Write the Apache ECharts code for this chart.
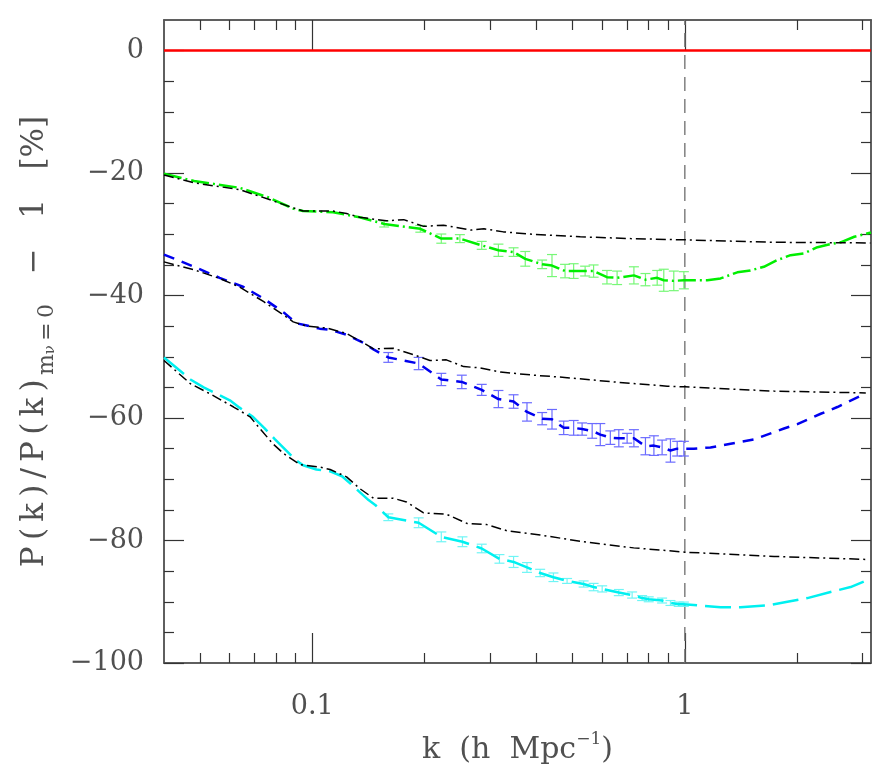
<!DOCTYPE html>
<html><head><meta charset="utf-8">
<script src="https://cdn.jsdelivr.net/npm/echarts@6/dist/echarts.min.js"></script>
<style>html,body{margin:0;padding:0;background:#fff}#c{width:885px;height:770px}</style>
</head><body><div id="c"></div>
<script>
// ---------- axes ----------
const kMin = 0.04, kMax = 3.16;
const yMin = -100, yMax = 5;
const yMajorTicks = [-100, -80, -60, -40, -20, 0];
const yMinorTicks = [-95, -90, -85, -75, -70, -65, -55, -50, -45, -35, -30, -25, -15, -10, -5];
const xMajorTicks = [0.1, 1];
const xMinorTicks = [0.05, 0.06, 0.07, 0.08, 0.09, 0.2, 0.3, 0.4, 0.5, 0.6, 0.7, 0.8, 0.9, 2, 3];
const refVerticalK = 1;
const zeroLineK = [0.04, 3.16];
const zeroLineV = [0, 0];

// ---------- green (simulation) ----------
const greenLeftK = [0.04, 0.0482, 0.0638, 0.0757, 0.0889, 0.0945, 0.1137, 0.134];
const greenLeftV = [-20.1, -21.3, -22.4, -23.9, -25.8, -26.2, -26.4, -27.2];
const greenErrK = [0.156, 0.195, 0.222, 0.249, 0.285, 0.316, 0.347, 0.373, 0.414, 0.44, 0.477, 0.503, 0.540, 0.569, 0.618, 0.658, 0.730, 0.784, 0.843, 0.878, 0.934, 0.994];
const greenErrV = [-28.3, -29.1, -30.7, -30.7, -31.8, -32.6, -32.9, -34.0, -34.9, -35.1, -36.0, -36.0, -36.0, -36.0, -37.0, -37.1, -36.7, -37.4, -37.1, -37.5, -37.6, -37.5];
const greenErrE = [0.5, 0.55, 0.75, 0.65, 0.65, 1.0, 0.7, 1.2, 0.7, 1.8, 1.1, 1.2, 0.8, 1.0, 1.1, 1.1, 1.4, 1.0, 1.2, 1.8, 1.6, 1.4];
const greenRightK = [1.0, 1.149, 1.247, 1.383, 1.5, 1.63, 1.772, 1.922, 2.088, 2.27, 2.46, 2.62, 2.85, 3.16];
const greenRightV = [-37.6, -37.5, -37.2, -36.2, -35.9, -35.3, -34.2, -33.4, -33.1, -32.1, -31.6, -31.3, -30.4, -29.7];

// ---------- blue (simulation) ----------
const blueLeftK = [0.04, 0.0482, 0.0564, 0.0654, 0.0741, 0.0844, 0.0905, 0.0967, 0.1047, 0.1117, 0.1236, 0.137, 0.146];
const blueLeftV = [-33.3, -35.3, -37.1, -38.6, -40.5, -42.9, -44.5, -44.9, -45.4, -45.6, -46.4, -47.7, -48.8];
const blueErrK = [0.16, 0.193, 0.222, 0.252, 0.285, 0.316, 0.347, 0.377, 0.414, 0.44, 0.473, 0.503, 0.530, 0.564, 0.593, 0.631, 0.665, 0.70, 0.73, 0.784, 0.826, 0.869, 0.915, 0.954, 0.994];
const blueErrV = [-50.1, -51.1, -53.7, -54.1, -55.4, -56.9, -57.3, -59.0, -60.1, -60.2, -61.6, -61.6, -61.8, -62.1, -62.7, -63.2, -63.3, -63.3, -63.3, -64.6, -64.5, -64.8, -65.3, -65.0, -65.0];
const blueErrE = [0.8, 1.0, 1.0, 1.1, 0.9, 1.4, 1.1, 1.5, 1.0, 1.6, 1.1, 1.2, 1.0, 1.2, 1.8, 1.1, 1.4, 0.8, 1.4, 1.4, 1.6, 1.2, 1.9, 1.2, 1.2];
const blueRightK = [1.057, 1.172, 1.327, 1.533, 1.735, 1.846, 2.005, 2.316, 2.567, 2.73, 3.06];
const blueRightV = [-65.0, -64.8, -64.2, -63.5, -62.3, -61.7, -61.0, -59.3, -58.2, -57.4, -56.0];

// ---------- cyan (simulation) ----------
const cyanLeftK = [0.04, 0.0471, 0.0511, 0.0601, 0.0638, 0.0693, 0.0745, 0.0792, 0.0905, 0.0945, 0.1026, 0.1117, 0.1202, 0.1266, 0.1416, 0.1476];
const cyanLeftV = [-50.1, -53.7, -55.0, -57.1, -58.3, -59.8, -61.7, -63.4, -66.9, -67.7, -68.4, -68.7, -69.5, -70.7, -73.4, -74.2];
const cyanErrK = [0.16, 0.193, 0.222, 0.253, 0.285, 0.318, 0.347, 0.377, 0.409, 0.444, 0.483, 0.535, 0.569, 0.60, 0.665, 0.722, 0.768, 0.80, 0.869, 0.915, 0.963, 0.994];
const cyanErrV = [-76.2, -77.1, -79.4, -80.2, -81.3, -83.0, -83.5, -84.4, -85.3, -86.0, -86.6, -87.1, -87.6, -87.9, -88.5, -88.9, -89.4, -89.6, -89.8, -90.2, -90.4, -90.4];
const cyanErrE = [0.55, 0.8, 0.8, 0.8, 0.7, 0.7, 0.9, 0.8, 0.6, 0.7, 0.4, 0.5, 0.6, 0.5, 0.5, 0.5, 0.4, 0.4, 0.4, 0.4, 0.35, 0.35];
const cyanRightK = [1.09, 1.247, 1.411, 1.665, 1.885, 2.133, 2.46, 2.785, 3.16];
const cyanRightV = [-90.6, -90.9, -90.9, -90.6, -90.0, -89.4, -88.4, -87.6, -86.2];

// ---------- black (linear theory) ----------
const theory1K = [0.04, 0.0482, 0.0638, 0.0757, 0.0872, 0.0945, 0.1137, 0.1236, 0.134, 0.158, 0.176, 0.199, 0.225, 0.266, 0.289, 0.326, 0.393, 0.524, 0.715, 1.0, 1.735, 3.15];
const theory1V = [-20.3, -21.6, -22.7, -24.2, -25.5, -26.2, -26.2, -26.6, -27.2, -27.8, -27.6, -28.7, -28.5, -29.3, -29.1, -29.6, -30.0, -30.4, -30.7, -30.9, -31.3, -31.4];
const theory2K = [0.04, 0.0482, 0.0564, 0.0638, 0.0741, 0.0838, 0.0889, 0.0967, 0.1094, 0.1236, 0.137, 0.146, 0.165, 0.19, 0.207, 0.229, 0.255, 0.282, 0.32, 0.393, 0.483, 0.644, 0.897, 1.0, 1.735, 3.06];
const theory2V = [-34.5, -35.8, -37.2, -38.6, -41.0, -43.2, -44.3, -45.0, -45.3, -46.2, -47.7, -48.7, -48.6, -49.8, -50.6, -50.5, -51.6, -51.8, -52.5, -53.0, -53.4, -54.1, -54.8, -54.9, -55.6, -55.9];
const theory3K = [0.04, 0.0471, 0.053, 0.0615, 0.0681, 0.0723, 0.0784, 0.0838, 0.0926, 0.1047, 0.1117, 0.1236, 0.134, 0.146, 0.165, 0.179, 0.199, 0.229, 0.26, 0.294, 0.333, 0.409, 0.535, 0.729, 1.0, 1.735, 3.12];
const theory3V = [-50.6, -54.4, -56.0, -58.2, -59.8, -61.7, -64.2, -65.8, -67.6, -68.0, -68.4, -69.6, -71.5, -73.1, -73.1, -73.7, -75.5, -75.7, -77.2, -77.4, -78.4, -79.1, -80.2, -81.2, -81.9, -82.6, -83.1];

// ---------- build ----------
const FONT = 'DejaVu Serif';
const TXT = '#505050';
const zip = (a, b) => a.map((x, i) => [x, b[i]]);
const cat = (...parts) => parts.reduce((acc, p) => acc.concat(p), []);

function lineSeries(name, data, color, width, dash, z) {
  return { name, type: 'line', data, xAxisIndex: 0, yAxisIndex: 0, showSymbol: false, symbol: 'none',
    smooth: false, z: z || 3, silent: true, animation: false,
    lineStyle: { color, width, type: dash, cap: 'butt' } };
}
function errSeries(name, k, v, e, color) {
  return { name, type: 'custom', xAxisIndex: 0, yAxisIndex: 0, z: 2, silent: true,
    data: k.map((x, i) => [x, v[i] - e[i], v[i] + e[i]]),
    encode: { x: 0, y: [1, 2] },
    renderItem(params, api) {
      const x = api.value(0);
      const lo = api.coord([x, api.value(1)]);
      const hi = api.coord([x, api.value(2)]);
      const w = 5;
      const st = { stroke: color, lineWidth: 1.2 };
      return { type: 'group', children: [
        { type: 'line', shape: { x1: lo[0], y1: lo[1], x2: hi[0], y2: hi[1] }, style: st },
        { type: 'line', shape: { x1: lo[0] - w, y1: lo[1], x2: lo[0] + w, y2: lo[1] }, style: st },
        { type: 'line', shape: { x1: hi[0] - w, y1: hi[1], x2: hi[0] + w, y2: hi[1] }, style: st }
      ] };
    } };
}

const axisLineStyle = { color: '#555', width: 1.5 };
const tickStyle = { color: '#333', width: 1.2 };
function xAx(position, ticks, len, labels) {
  return { type: 'log', logBase: 10, min: kMin, max: kMax, position,
    axisLine: { show: true, onZero: false, lineStyle: axisLineStyle },
    axisTick: { show: true, inside: true, length: len, customValues: ticks, lineStyle: tickStyle },
    axisLabel: labels ? { show: true, customValues: xMajorTicks, margin: 30, fontFamily: FONT, fontSize: 27, color: TXT,
      formatter: v => String(+(+v).toPrecision(3)) } : { show: false },
    splitLine: { show: false }, minorTick: { show: false }, minorSplitLine: { show: false } };
}
function yAx(position, ticks, len, labels) {
  return { type: 'value', min: yMin, max: yMax, position,
    axisLine: { show: true, onZero: false, lineStyle: axisLineStyle },
    axisTick: { show: true, inside: true, length: len, customValues: ticks, lineStyle: tickStyle },
    axisLabel: labels ? { show: true, customValues: yMajorTicks, margin: 20, fontFamily: FONT, fontSize: 27, color: TXT,
      formatter: v => (v < 0 ? '\u2212' + Math.abs(v) : String(v)) } : { show: false },
    splitLine: { show: false } };
}

const xAxes = [xAx('bottom', xMajorTicks, 30, true), xAx('bottom', xMinorTicks, 10, false),
               xAx('top', xMajorTicks, 30, false), xAx('top', xMinorTicks, 10, false)];
xAxes[0].name = '{a|k  (h  Mpc}{sup|\u22121}{a|)}';
xAxes[0].nameLocation = 'middle';
xAxes[0].nameGap = 68;
xAxes[0].nameTextStyle = { fontFamily: FONT, color: TXT, rich: {
  a: { fontFamily: FONT, fontSize: 30, color: TXT, lineHeight: 38 },
  sup: { fontFamily: FONT, fontSize: 17, color: TXT, verticalAlign: 'top', lineHeight: 17 } } };

const yAxes = [yAx('left', yMajorTicks, 20, true), yAx('left', yMinorTicks, 10, false),
               yAx('right', yMajorTicks, 20, false), yAx('right', yMinorTicks, 10, false)];
const TS = '\u2009';
yAxes[0].name = '{a|' + ['P', '(', 'k', ')', '/', 'P', '(', 'k', ')'].join(TS) + '}{s|' + TS + 'm}{ss|\u03bd}{s|' + TS + '=' + TS + '0}{a|   \u2212   1   [%]}';
yAxes[0].nameLocation = 'middle';
yAxes[0].nameGap = 106;
yAxes[0].nameTextStyle = { fontFamily: FONT, color: TXT, rich: {
  a: { fontFamily: FONT, fontSize: 31, color: TXT, lineHeight: 46 },
  s: { fontFamily: FONT, fontSize: 22, color: TXT, verticalAlign: 'bottom', lineHeight: 21 },
  ss: { fontFamily: FONT, fontSize: 15, color: TXT, verticalAlign: 'bottom', lineHeight: 10 } } };

const series = [
  lineSeries('zero', zip(zeroLineK, zeroLineV), '#ff0000', 2.5, 'solid', 4),
  lineSeries('k=1', [[refVerticalK, yMin], [refVerticalK, yMax]], '#777', 1.4, [14, 8], 1),
  errSeries('greenErr', greenErrK, greenErrV, greenErrE, '#77f777'),
  errSeries('blueErr', blueErrK, blueErrV, blueErrE, '#6b6bff'),
  errSeries('cyanErr', cyanErrK, cyanErrV, cyanErrE, '#6ff5f5'),
  lineSeries('green', cat(zip(greenLeftK, greenLeftV), zip(greenErrK, greenErrV), zip(greenRightK, greenRightV)), '#00ee00', 2.5, [18, 4, 2, 4], 3),
  lineSeries('blue', cat(zip(blueLeftK, blueLeftV), zip(blueErrK, blueErrV), zip(blueRightK, blueRightV)), '#0000ee', 2.5, [11, 8], 3),
  lineSeries('cyan', cat(zip(cyanLeftK, cyanLeftV), zip(cyanErrK, cyanErrV), zip(cyanRightK, cyanRightV)), '#00f0f0', 2.5, [26, 8], 3),
  lineSeries('theory1', zip(theory1K, theory1V), '#000', 1.5, [10, 4, 2, 4], 5),
  lineSeries('theory2', zip(theory2K, theory2V), '#000', 1.5, [10, 4, 2, 4], 5),
  lineSeries('theory3', zip(theory3K, theory3V), '#000', 1.5, [10, 4, 2, 4], 5)
];

const chart = echarts.init(document.getElementById('c'), null, { renderer: 'canvas' });
chart.setOption({
  animation: false,
  backgroundColor: '#fff',
  grid: { left: 164, right: 14, top: 20, bottom: 107, containLabel: false, outerBoundsMode: 'none' },
  xAxis: xAxes,
  yAxis: yAxes,
  series
});
</script>
</body></html>
